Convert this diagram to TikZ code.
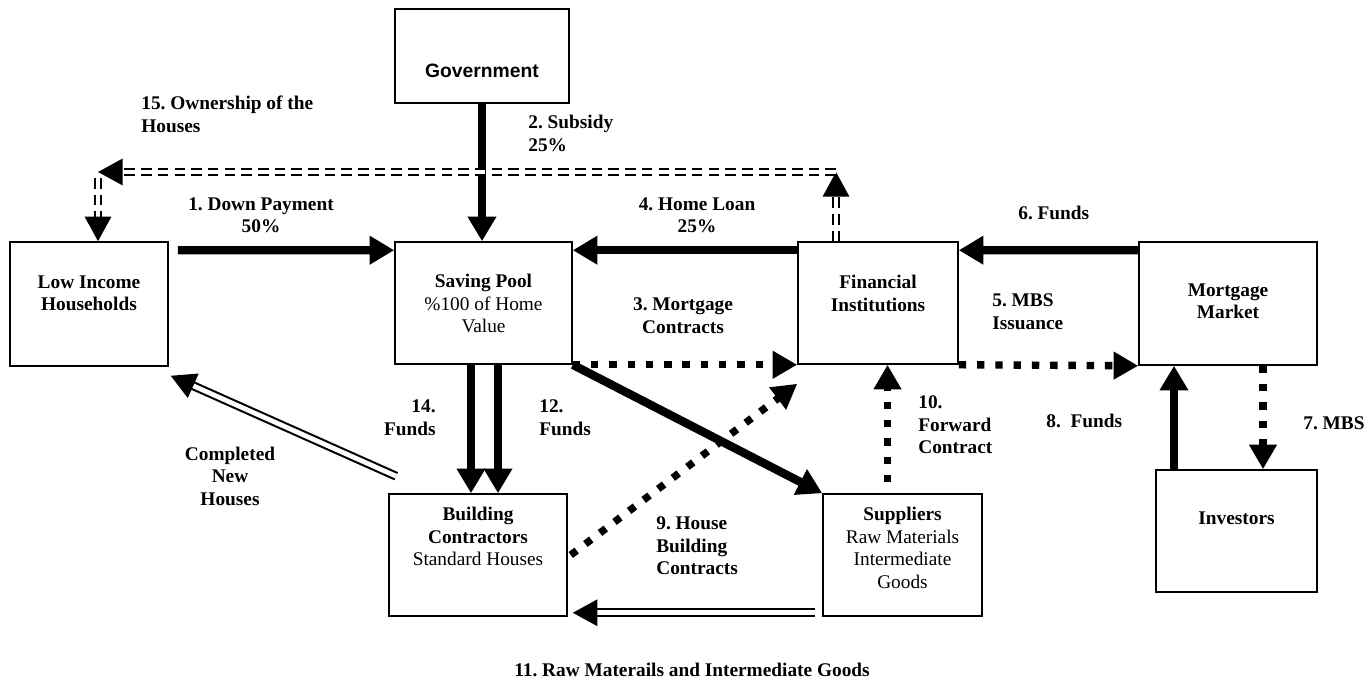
\documentclass[tikz,border=0pt]{standalone}
\usepackage{fontspec}
\setmainfont{Liberation Serif}
\newfontfamily\govfont{Liberation Sans}
\usetikzlibrary{arrows.meta,positioning,calc}
\frenchspacing

\begin{document}
\begin{tikzpicture}[x=0.02cm, y=-0.02cm,
    box/.style={rectangle, draw, line width=0.9pt, inner sep=0pt},
    intext/.style={align=center, inner sep=0pt, font=\fontsize{11}{12.8}\selectfont\bfseries},
    lbl/.style={inner sep=0pt, font=\fontsize{11}{12.8}\selectfont\bfseries},
    fatarrow/.style={line width=4.8pt, -{Triangle[length=14pt,width=15.5pt]}},
    dotarrow/.style={line width=4.2pt, dash pattern=on 4.2pt off 6.2pt, -{Triangle[length=14pt,width=15pt]}},
    dasharrow/.style={double, double distance=2.7pt, line width=1.1pt, dash pattern=on 6pt off 3.5pt, -{Triangle[length=14pt,width=15pt]}},
    dblarrow/.style={double, double distance=2.7pt, line width=1.2pt, -{Triangle[length=14pt,width=15pt]}}
]
\useasboundingbox (0,0) rectangle (1369,685);

% Boxes
\node[box, minimum width=3.48cm, minimum height=1.88cm] (gov) at (482,56) {};
\node[intext, font=\fontsize{11}{13}\selectfont\govfont\bfseries, below=1.1cm of gov.north] (govtext) {Government};

\node[box, minimum width=3.16cm, minimum height=2.48cm] (house) at (89,304) {};
\node[intext, below=0.68cm of house.north] (housetext) {Low Income\\Households};

\node[box, minimum width=3.54cm, minimum height=2.44cm] (pool) at (483.5,303) {};
\node[intext, below=0.66cm of pool.north] (pooltext) {Saving Pool\\\mdseries\%100 of Home\\\mdseries Value};

\node[box, minimum width=3.2cm, minimum height=2.44cm] (fin) at (878,303) {};
\node[intext, below=0.68cm of fin.north] (fintext) {Financial\\Institutions};

\node[box, minimum width=3.56cm, minimum height=2.46cm] (mm) at (1228,303.5) {};
\node[intext, below=0.84cm of mm.north] (mmtext) {Mortgage\\Market};

\node[box, minimum width=3.56cm, minimum height=2.44cm] (build) at (478,555) {};
\node[intext, below=0.28cm of build.north] (buildtext) {Building\\Contractors\\\mdseries Standard Houses};

\node[box, minimum width=3.18cm, minimum height=2.44cm] (sup) at (902.5,555) {};
\node[intext, below=0.28cm of sup.north] (suptext) {Suppliers\\\mdseries Raw Materials\\\mdseries Intermediate\\\mdseries Goods};

\node[box, minimum width=3.22cm, minimum height=2.44cm] (inv) at (1236.5,531) {};
\node[intext, below=0.84cm of inv.north] (invtext) {Investors};

% Helper points
\coordinate (ctop) at (836,172);
\coordinate (cleft) at (98,172);
\coordinate (fwd) at ($(sup.north)+(-15,-11)$);
\coordinate (inv8) at ($(inv.north)+(-62.5,0)$);
\coordinate (mm7) at ($(mm.south)+(35,0)$);
\coordinate (f14) at ($(pool.south)+(-12.5,0)$);
\coordinate (f12) at ($(pool.south)+(14.5,0)$);

% Connections
\draw[fatarrow] ($(house.north east)+(9,9)$) -- ($(pool.north west)+(0,9)$);
\draw[fatarrow] (gov.south) -- (gov.south |- pool.north);
\draw[fatarrow] ($(fin.north west)+(0,9)$) -- ($(pool.north east)+(0,9)$);
\draw[fatarrow] ($(mm.north west)+(0,9)$) -- ($(fin.north east)+(0,9)$);
\draw[dotarrow] (pool.south east) -- (fin.south west);
\draw[dotarrow] (fin.south east) -- (mm.south west);
\draw[fatarrow] (pool.south east) -- (sup.north west);
\draw[dotarrow] ($(build.east)+(3,0)$) -- ($(fin.south west)+(0,19)$);
\draw[dotarrow] (fwd) -- (fwd |- fin.south);
\draw[fatarrow] (inv8) -- (inv8 |- mm.south);
\draw[dotarrow] (mm7) -- (mm7 |- inv.north);
\draw[fatarrow] (f14) -- (f14 |- build.north);
\draw[fatarrow] (f12) -- (f12 |- build.north);
\draw[dblarrow] ($(build.north west)+(8,-17)$) -- ($(house.south east)+(2,9)$);
\draw[dblarrow] ($(sup.south west)+(-7,-4)$) -- ($(build.south east)+(5,-4)$);
\draw[dasharrow] (fin.north -| ctop) -- (ctop);
\draw[dasharrow] (ctop) -- (cleft);
\draw[dasharrow] ([yshift=-0.12cm]cleft) -- (house.north -| cleft);

% Labels
\node[lbl, align=left, anchor=west] (l15) at (141,114.5) {15. Ownership of the\\Houses};
\node[lbl, align=left, anchor=west] (l2) at (528,133.5) {2. Subsidy\\25\%};
\node[lbl, align=center] (l1) at (261,215.5) {1. Down Payment\\50\%};
\node[lbl, align=center] (l4) at (697,215.5) {4. Home Loan\\25\%};
\node[lbl, anchor=west] (l6) at (1018,213) {6. Funds};
\node[lbl, align=center] (l3) at (683,315.5) {3. Mortgage\\Contracts};
\node[lbl, align=left, anchor=west] (l5) at (992,311.5) {5. MBS\\Issuance};
\node[lbl, align=right, anchor=east] (l14) at (436,417.5) {14.\\Funds};
\node[lbl, align=left, anchor=west] (l12) at (539,417.5) {12.\\Funds};
\node[lbl, align=center] (lcnh) at (230,476) {Completed\\New\\Houses};
\node[lbl, align=left, anchor=west] (l9) at (656,546) {9. House\\Building\\Contracts};
\node[lbl, align=left, anchor=west] (l10) at (918,425) {10.\\Forward\\Contract};
\node[lbl, anchor=west] (l8) at (1046,421) {8.\ \ Funds};
\node[lbl, anchor=west] (l7) at (1303,423) {7. MBS};
\node[lbl] (l11) at (692,670) {11. Raw Materails and Intermediate Goods};

\end{tikzpicture}
\end{document}
